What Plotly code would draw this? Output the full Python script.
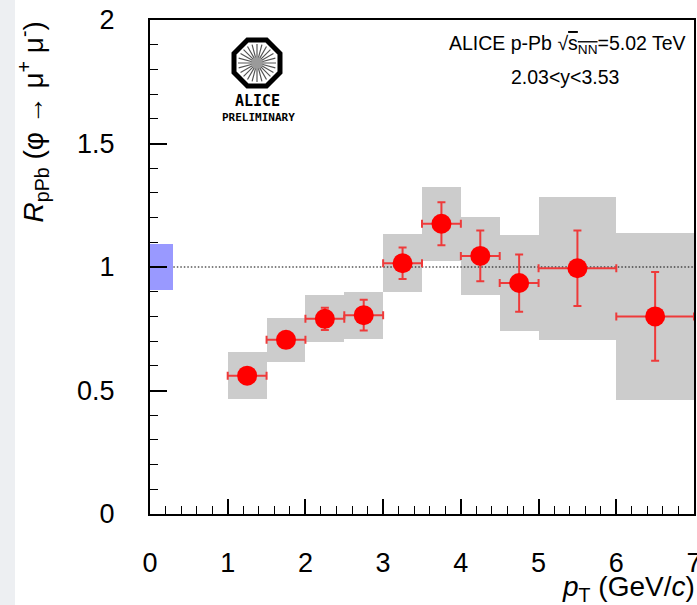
import math
import plotly.graph_objects as go

# phi -> mu+ mu- nuclear modification factor in p-Pb, 2.03<y<3.53
pt = [1.25, 1.75, 2.25, 2.75, 3.25, 3.75, 4.25, 4.75, 5.5, 6.5]
pt_halfwidth = [0.25, 0.25, 0.25, 0.25, 0.25, 0.25, 0.25, 0.25, 0.5, 0.5]
rppb = [0.56, 0.705, 0.79, 0.805, 1.015, 1.175, 1.045, 0.935, 0.995, 0.80]
stat_err = [0.02, 0.03, 0.045, 0.062, 0.064, 0.087, 0.103, 0.116, 0.153, 0.18]
syst_err = [0.096, 0.088, 0.095, 0.095, 0.117, 0.15, 0.159, 0.194, 0.29, 0.338]

# global normalisation uncertainty drawn at unity
norm_unc = 0.095
norm_width = 0.3

x_ticks = [0, 1, 2, 3, 4, 5, 6, 7]
y_ticks = [0, 0.5, 1, 1.5, 2]
y_ticklabels = ["0", "0.5", "1", "1.5", "2"]

W, H = 697, 605
ML, MR, MT, MB = 150, 3, 20, 91
PW, PH = W - ML - MR, H - MT - MB


def px(x):
    return (x - ML) / PW


def py(y):
    return 1 - (y - MT) / PH


fig = go.Figure()

# systematic uncertainty boxes
fig.add_trace(go.Bar(
    x=pt, y=[2 * s for s in syst_err],
    base=[r - s for r, s in zip(rppb, syst_err)],
    width=[2 * w for w in pt_halfwidth],
    marker=dict(color="#cccccc", line=dict(width=0)),
    showlegend=False, hoverinfo="skip",
))

# normalisation box
fig.add_trace(go.Bar(
    x=[norm_width / 2], y=[2 * norm_unc], base=[1 - norm_unc],
    width=[norm_width],
    marker=dict(color="#9999ff", line=dict(width=0)),
    showlegend=False, hoverinfo="skip",
))

# reference line at unity
fig.add_trace(go.Scatter(
    x=[norm_width, 7], y=[1, 1], mode="lines",
    line=dict(color="black", width=1.2, dash="1.5px,2px"),
    showlegend=False, hoverinfo="skip",
))

# data points with statistical errors
fig.add_trace(go.Scatter(
    x=pt, y=rppb, mode="markers",
    marker=dict(color="#ff0000", size=20, line=dict(width=0)),
    error_y=dict(type="data", array=stat_err, color="#ee3a3a", thickness=2, width=4),
    error_x=dict(type="data", array=pt_halfwidth, color="#ee3a3a", thickness=2, width=4),
    showlegend=False,
))

axis_font = dict(family="Liberation Sans, Arial, sans-serif", size=27, color="black")

fig.update_layout(
    width=W, height=H,
    margin=dict(l=ML, r=MR, t=MT, b=MB, autoexpand=False),
    paper_bgcolor="white", plot_bgcolor="white",
    barmode="overlay", bargap=0,
    xaxis=dict(
        range=[0, 7], tickvals=x_ticks, ticktext=[str(v) for v in x_ticks],
        ticks="inside", ticklen=15, tickwidth=1.5, tickcolor="black",
        minor=dict(dtick=0.2, tick0=0, ticks="inside", ticklen=8, tickwidth=1, tickcolor="black"),
        showline=True, linecolor="black", linewidth=2, mirror=True,
        showgrid=False, zeroline=False, tickfont=axis_font, ticklabelstandoff=24,
        ticklabeloverflow="allow", automargin=False,
    ),
    yaxis=dict(
        range=[0, 2], tickvals=y_ticks, ticktext=y_ticklabels,
        ticks="inside", ticklen=17, tickwidth=1.5, tickcolor="black",
        minor=dict(dtick=0.1, tick0=0, ticks="inside", ticklen=8, tickwidth=1, tickcolor="black"),
        showline=True, linecolor="black", linewidth=2, mirror=True,
        showgrid=False, zeroline=False, tickfont=axis_font, ticklabelstandoff=28,
        automargin=False,
    ),
)

# page strip on the left edge
shapes = [dict(type="rect", xref="paper", yref="paper",
               x0=px(0), x1=px(15), y0=py(H), y1=py(0),
               fillcolor="#edeff2", line=dict(width=0), layer="below")]

# ALICE logo: octagon with radial spokes
cx, cy, apo = 257, 63, 23
R = apo / math.cos(math.pi / 8)
pts = [(cx + R * math.cos(math.pi / 8 + k * math.pi / 4),
        cy + R * math.sin(math.pi / 8 + k * math.pi / 4)) for k in range(8)]
oct_path = "M " + " L ".join(f"{px(a):.5f},{py(b):.5f}" for a, b in pts) + " Z"
shapes.append(dict(type="path", xref="paper", yref="paper", path=oct_path,
                   fillcolor="white", line=dict(color="black", width=5)))
spokes = []
for k in range(24):
    a = 2 * math.pi * k / 24
    x1, y1 = cx + 3 * math.cos(a), cy + 3 * math.sin(a)
    x2, y2 = cx + 19 * math.cos(a), cy + 19 * math.sin(a)
    spokes.append(f"M {px(x1):.5f},{py(y1):.5f} L {px(x2):.5f},{py(y2):.5f}")
shapes.append(dict(type="path", xref="paper", yref="paper", path=" ".join(spokes),
                   line=dict(color="#555555", width=1.2)))
shapes.append(dict(type="circle", xref="paper", yref="paper",
                   x0=px(cx - 6), x1=px(cx + 6), y0=py(cy + 6), y1=py(cy - 6),
                   fillcolor="#9a9a9a", line=dict(width=0)))
fig.update_layout(shapes=shapes)

ann = []
ann.append(dict(text="<b>ALICE</b>", xref="paper", yref="paper", x=px(257), y=py(100.5),
                xanchor="center", yanchor="middle", showarrow=False,
                font=dict(family="DejaVu Sans Mono", size=15, color="black")))
ann.append(dict(text="<b>PRELIMINARY</b>", xref="paper", yref="paper", x=px(258), y=py(117.5),
                xanchor="center", yanchor="middle", showarrow=False,
                font=dict(family="DejaVu Sans Mono", size=11, color="black")))

label_font = dict(family="Liberation Sans, Arial, sans-serif", size=19.5, color="black")
ann.append(dict(text="ALICE p-Pb √<span style='text-decoration:overline'>s<sub>NN</sub></span>=5.02 TeV",
                xref="paper", yref="paper", x=px(688), y=py(44),
                xanchor="right", yanchor="middle", showarrow=False, font=label_font))
ann.append(dict(text="2.03<y<3.53", xref="paper", yref="paper", x=px(565), y=py(77),
                xanchor="center", yanchor="middle", showarrow=False, font=label_font))

title_font = dict(family="Liberation Sans, Arial, sans-serif", size=28, color="black")
ann.append(dict(text="<i>R</i><sub>pPb</sub> (φ → μ<sup>+</sup> μ<sup>-</sup>)",
                xref="paper", yref="paper", x=px(33), y=1, textangle=-90,
                xanchor="center", yanchor="top", showarrow=False, font=title_font))
ann.append(dict(text="<i>p</i><sub>T</sub> (GeV/<i>c</i>)",
                xref="paper", yref="paper", x=px(697), y=py(588),
                xanchor="right", yanchor="middle", showarrow=False, font=title_font))
fig.update_layout(annotations=ann)

fig.write_html("out.html")
